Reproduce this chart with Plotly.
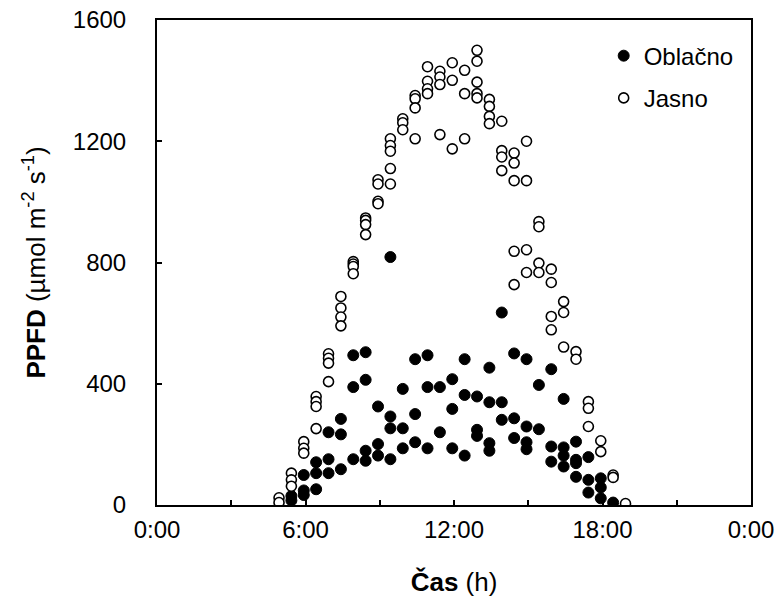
import plotly.graph_objects as go

# Half-hourly sampling times (hours of day) for each measurement column
hours = [4.93, 5.43, 5.93, 6.43, 6.93, 7.43, 7.93, 8.43, 8.93, 9.43,
         9.93, 10.43, 10.93, 11.43, 11.93, 12.43, 12.93, 13.43, 13.93, 14.43,
         14.93, 15.43, 15.93, 16.43, 16.93, 17.43, 17.93, 18.43, 18.93]

# PPFD readings on overcast days (Oblačno), one list per time column
ppfd_oblacno = [
    [],
    [30, 15],
    [99, 48, 33],
    [141, 105, 52],
    [240, 151, 105],
    [284, 233, 118],
    [494, 389, 151],
    [504, 413, 179, 146],
    [325, 201, 163],
    [818, 292, 253, 151],
    [383, 253, 187],
    [481, 300, 207],
    [494, 389, 187],
    [389, 240],
    [415, 317, 187],
    [481, 363, 163],
    [358, 248, 228],
    [453, 339, 204, 179],
    [635, 339, 281],
    [500, 286, 221],
    [481, 259, 207, 184],
    [396, 250],
    [448, 193, 143],
    [350, 190, 163, 127],
    [209, 149, 138, 93],
    [158, 83, 41],
    [88, 58, 22],
    [8],
    [],
]

# PPFD readings on clear days (Jasno), one list per time column
ppfd_jasno = [
    [24, 8],
    [105, 83, 62],
    [209, 187, 171],
    [358, 341, 325, 252],
    [499, 484, 468, 407],
    [688, 650, 620, 591],
    [803, 795, 787, 763],
    [947, 939, 925, 892],
    [1073, 1059, 1002, 994],
    [1208, 1186, 1167, 1110, 1059],
    [1274, 1261, 1238],
    [1351, 1340, 1310, 1208],
    [1446, 1398, 1373, 1357],
    [1431, 1412, 1387, 1222],
    [1459, 1401, 1175],
    [1434, 1357, 1208],
    [1500, 1464, 1395, 1357, 1343],
    [1338, 1315, 1282, 1258],
    [1266, 1169, 1148, 1103],
    [1161, 1128, 1070, 837, 727],
    [1200, 1070, 842, 767],
    [935, 918, 798, 767],
    [778, 734, 622, 578],
    [671, 635, 521],
    [506, 481],
    [341, 319, 259],
    [212, 176],
    [99, 91],
    [5],
]

x_tickvals = [0, 3, 6, 9, 12, 15, 18, 21, 24]
x_ticktext = ["0:00", "", "6:00", "", "12:00", "", "18:00", "", "0:00"]
y_tickvals = [0, 400, 800, 1200, 1600]


def flatten(columns):
    xs, ys = [], []
    for t, vals in zip(hours, columns):
        for v in vals:
            xs.append(t)
            ys.append(v)
    return xs, ys


xo, yo = flatten(ppfd_oblacno)
xj, yj = flatten(ppfd_jasno)

FONT = "Liberation Sans, Arial, sans-serif"
TICK_SIZE = 24
TITLE_SIZE = 26

fig = go.Figure()
fig.add_trace(go.Scatter(
    x=xo, y=yo, mode="markers", name="Oblačno", legendgroup="o",
    marker=dict(symbol="circle", size=11, color="black",
                line=dict(color="black", width=1)),
))
fig.add_trace(go.Scatter(
    x=xj, y=yj, mode="markers", name="Jasno", legendgroup="j",
    marker=dict(symbol="circle", size=10, color="white",
                line=dict(color="black", width=1.6)),
))

axis_common = dict(
    showline=True, linecolor="black", linewidth=2, mirror=True,
    showgrid=False, zeroline=False, automargin=False,
    ticks="inside", ticklen=5, tickwidth=1.5, tickcolor="black",
    tickfont=dict(family=FONT, size=TICK_SIZE, color="black"),
)

fig.update_xaxes(
    range=[0, 24], tickmode="array", tickvals=x_tickvals, ticktext=x_ticktext,
    ticklabelstandoff=2,
    title=dict(text="<b>Čas</b> (h)",
               font=dict(family=FONT, size=TITLE_SIZE, color="black"),
               standoff=31),
    **axis_common,
)
fig.update_yaxes(
    range=[0, 1600], tickmode="array", tickvals=y_tickvals,
    ticklabelstandoff=24,
    title=dict(text="<b>PPFD</b> (µmol m<sup>-2</sup> s<sup>-1</sup>)",
               font=dict(family=FONT, size=TITLE_SIZE, color="black"),
               standoff=20),
    **axis_common,
)

fig.update_layout(
    width=781, height=612,
    margin=dict(l=157, r=30, t=20, b=107),
    plot_bgcolor="white", paper_bgcolor="white",
    font=dict(family=FONT, color="black"),
    showlegend=True,
    legend=dict(x=0.752, y=0.972, xanchor="left", yanchor="top",
                bgcolor="rgba(0,0,0,0)", borderwidth=0,
                traceorder="grouped", tracegroupgap=8,
                font=dict(family=FONT, size=TICK_SIZE, color="black"),
                itemwidth=30),
)

fig.write_html("out.html")
